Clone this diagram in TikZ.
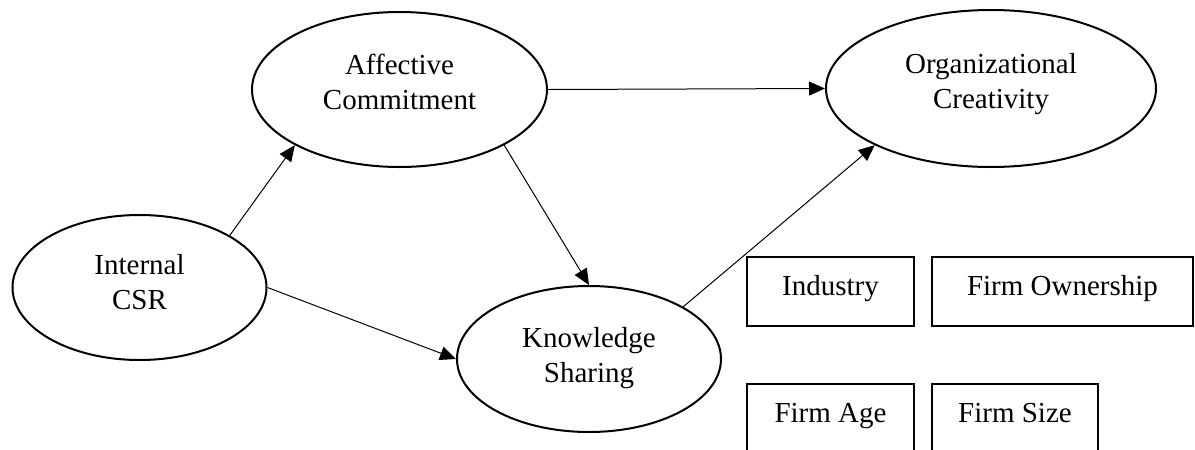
\documentclass[tikz,border=0pt]{standalone}
\usepackage{fontspec}
\setmainfont{Liberation Serif}
\usetikzlibrary{shapes.geometric,arrows.meta}
\begin{document}
\begin{tikzpicture}[x=1pt,y=-1pt,
  oval/.style={draw,ellipse,line width=2pt,inner sep=0pt},
  lbl/.style={align=center,inner sep=0pt,font=\fontsize{29}{35}\selectfont},
  ctrl/.style={draw,rectangle,line width=2pt,inner sep=0pt,minimum height=69pt,text height=20pt,text depth=12.5pt,font=\fontsize{29}{35}\selectfont},
  arr/.style={line width=1pt,-{Triangle[length=16pt,width=14pt]}}]
\useasboundingbox (0,0) rectangle (1195,450);
\clip (0,0) rectangle (1195,450);
\fill[white] (0,0) rectangle (1195,450);
% ellipses
\node[oval,minimum width=254pt,minimum height=145pt] (csr) at (139.5,287.5) {};
\node[oval,minimum width=295pt,minimum height=155pt] (ac) at (399.5,89.5) {};
\node[oval,minimum width=264pt,minimum height=146pt] (ks) at (589,359) {};
\node[oval,minimum width=330pt,minimum height=157pt] (oc) at (991,88.5) {};
% labels
\node[lbl] (csrt) at (139.5,282.5) {Internal\\CSR};
\node[lbl] (act) at (399.5,81.5) {Affective\\Commitment};
\node[lbl] (kst) at (589,358) {Knowledge\\Sharing};
\node[lbl] (oct) at (991,83.6) {Organizational\\Creativity};
% control boxes
\node[ctrl,minimum width=167pt] (ind) at (830.5,291.5) {Industry};
\node[ctrl,minimum width=261pt] (own) at (1062.5,291.5) {Firm Ownership};
\node[ctrl,minimum width=167pt] (age) at (830.5,418.5) {Firm Age};
\node[ctrl,minimum width=166pt] (size) at (1015,418.5) {Firm Size};
% arrows
\draw[arr] (csr.30) -- (ac.208);
\draw[arr] (csr.east) -- (ks.west);
\draw[arr] (ac.332) -- (ks.north);
\draw[arr] (ac.east) -- (oc.west);
\draw[arr] (ks.29) -- (oc.206);
\end{tikzpicture}
\end{document}
